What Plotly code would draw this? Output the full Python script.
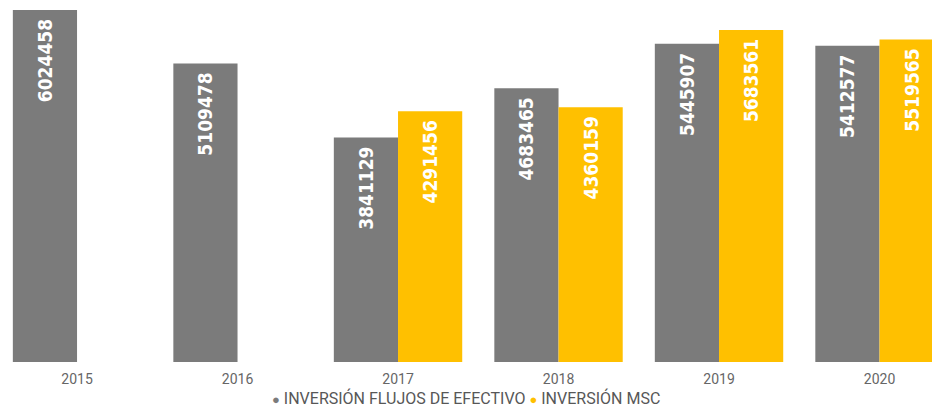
import plotly.graph_objects as go

years = ["2015", "2016", "2017", "2018", "2019", "2020"]
flujos_efectivo = [6024458, 5109478, 3841129, 4683465, 5445907, 5412577]
msc = [None, None, 4291456, 4360159, 5683561, 5519565]

GRAY = "#7b7b7b"
YELLOW = "#ffc000"

def labels(vals):
    # trailing non-breaking spaces give a little padding from the bar top
    return [("" if v is None else str(v) + "\u00a0") for v in vals]

bar_font = dict(family="DejaVu Sans Condensed", size=19, color="white", weight="bold")

fig = go.Figure()
fig.add_trace(go.Bar(
    x=years, y=flujos_efectivo, name="INVERSIÓN FLUJOS DE EFECTIVO",
    marker=dict(color=GRAY, line=dict(width=0)),
    text=labels(flujos_efectivo), textposition="inside", textangle=-90,
    insidetextanchor="end", textfont=bar_font, showlegend=False,
    hoverinfo="x+y",
))
fig.add_trace(go.Bar(
    x=years, y=msc, name="INVERSIÓN MSC",
    marker=dict(color=YELLOW, line=dict(width=0)),
    text=labels(msc), textposition="inside", textangle=-90,
    insidetextanchor="end", textfont=bar_font, showlegend=False,
    hoverinfo="x+y",
))

fig.add_annotation(
    xref="paper", yref="paper", x=0.5, y=-0.102, xanchor="center", yanchor="middle",
    showarrow=False,
    text=(f'<span style="color:{GRAY};font-size:13px">●</span> INVERSIÓN FLUJOS DE EFECTIVO '
          f'<span style="color:{YELLOW};font-size:13px">●</span> INVERSIÓN MSC'),
    font=dict(family="Roboto", size=16, color="#575757"),
)

fig.update_layout(
    width=932, height=412,
    margin=dict(l=0, r=0, t=10, b=50),
    paper_bgcolor="white", plot_bgcolor="white",
    barmode="group", bargap=0.2, bargroupgap=0,
    xaxis=dict(type="category", range=[-0.48, 5.327], showgrid=False, zeroline=False,
               showline=False, ticks="", ticklabelstandoff=7,
               tickfont=dict(family="Roboto", size=14, color="#666666")),
    yaxis=dict(range=[0, 6024458], visible=False, showgrid=False, zeroline=False),
)

fig.write_html("out.html", config={"displayModeBar": False},
               post_script="document.body.style.margin='0';document.body.style.overflow='hidden';")
